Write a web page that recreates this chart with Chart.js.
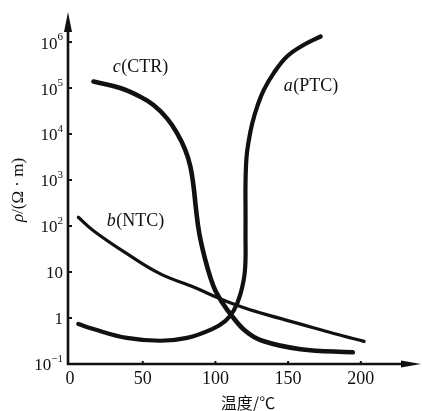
<!DOCTYPE html>
<html><head><meta charset="utf-8">
<script src="https://cdn.jsdelivr.net/npm/chart.js@4/dist/chart.umd.min.js"></script>
<style>html,body{margin:0;padding:0;background:#fff}#wrap{width:422px;height:411px;position:relative}</style>
</head><body><div id="wrap"><canvas id="c" width="422" height="411"></canvas></div>
<script>
// ---- data (temperature in °C, resistivity in Ω·m) ----
const tempPTC = [5.7, 16.1, 39.1, 62.1, 80.5, 97.7, 106.9, 112.6, 117.2, 120.3, 120.7, 120.7, 120.7, 121.4, 123.0, 125.3, 128.8, 133.3, 140.2, 149.4, 160.9, 172.4];
const rhoPTC  = [0.74, 0.575, 0.37, 0.32, 0.37, 0.575, 0.87, 1.45, 3.3, 10.7, 69, 240, 850, 3160, 7400, 17000, 40000, 91200, 214000, 490000, 871000, 1320000];

const tempNTC = [5.7, 16.1, 39.1, 62.1, 86.2, 100, 109.2, 120.7, 134.5, 158.6, 181.4, 202.3];
const rhoNTC  = [155, 79, 25, 9.1, 4.56, 2.9, 2.2, 1.63, 1.2, 0.736, 0.46, 0.31];

const tempCTR = [16.1, 34.5, 48.3, 57.4, 66.7, 73.6, 79.3, 82.8, 85.0, 86.6, 88.9, 92.8, 96.9, 100, 104.6, 110.3, 120.7, 132.2, 158.6, 194.5];
const rhoCTR  = [138000, 100000, 64600, 42700, 21900, 10500, 4470, 1950, 708, 240, 69, 19.5, 7.0, 3.9, 2.2, 1.22, 0.52, 0.32, 0.21, 0.18];

const xTickValues = [0, 50, 100, 150, 200];
const yTickValues = [0.1, 1, 10, 100, 1e3, 1e4, 1e5, 1e6];
const yTickBase   = ["10", "1", "10", "10", "10", "10", "10", "10"];
const yTickSup    = ["\u22121", "", "", "2", "3", "4", "5", "6"];
const xTitle = "温度/℃";
const yTitleParts = [["ρ", true], ["/(Ω · m)", false]];
const curveNames = [["a", "(PTC)"], ["b", "(NTC)"], ["c", "(CTR)"]];
const curveLabelAt = [[165.5, 1.07e5], [44.8, 125], [48.3, 2.8e5]];

function pts(xs, ys){ return xs.map((v,i)=>({x:v, y:ys[i]})); }

const SERIF = '"Liberation Serif","DejaVu Serif",serif';
const INK = '#111';

const axisPlugin = {
  id: 'axesDraw',
  afterDatasetsDraw(chart){
    const {ctx, chartArea:a, scales:{x, y}} = chart;
    ctx.save();
    ctx.strokeStyle = INK; ctx.fillStyle = INK; ctx.lineCap = 'butt';
    const x0 = a.left, y0 = a.bottom;
    ctx.lineWidth = 2.6;
    ctx.beginPath(); ctx.moveTo(x0, y0 + 1); ctx.lineTo(x0, a.top + 12); ctx.stroke();
    ctx.beginPath(); ctx.moveTo(x0 - 1, y0); ctx.lineTo(a.right - 12, y0); ctx.stroke();
    ctx.beginPath(); ctx.moveTo(x0, a.top); ctx.lineTo(x0 - 4, a.top + 20); ctx.lineTo(x0 + 4, a.top + 20); ctx.closePath(); ctx.fill();
    ctx.beginPath(); ctx.moveTo(a.right, y0); ctx.lineTo(a.right - 20, y0 - 3.5); ctx.lineTo(a.right - 20, y0 + 3.5); ctx.closePath(); ctx.fill();
    ctx.lineWidth = 2;
    yTickValues.forEach((v, i) => {
      const py = y.getPixelForValue(v);
      if (i > 0) { ctx.beginPath(); ctx.moveTo(x0, py); ctx.lineTo(x0 + 4, py); ctx.stroke(); }
      const right = 63;
      let supW = 0;
      if (yTickSup[i]) {
        ctx.font = '11px ' + SERIF; ctx.textAlign = 'right'; ctx.textBaseline = 'middle';
        ctx.fillText(yTickSup[i], right, py - 5);
        supW = ctx.measureText(yTickSup[i]).width;
      }
      ctx.font = '17px ' + SERIF; ctx.textAlign = 'right'; ctx.textBaseline = 'middle';
      ctx.fillText(yTickBase[i], right - supW, py + 2);
    });
    xTickValues.forEach((v, i) => {
      const px = x.getPixelForValue(v);
      if (i > 0) { ctx.beginPath(); ctx.moveTo(px, y0); ctx.lineTo(px, y0 - 3); ctx.stroke(); }
      ctx.font = '18px ' + SERIF; ctx.textAlign = 'center'; ctx.textBaseline = 'middle';
      ctx.fillText(String(v), px, y0 + 15);
    });
    ctx.font = '16px "Noto Sans CJK SC", sans-serif'; ctx.textAlign = 'center'; ctx.textBaseline = 'middle';
    ctx.fillText(xTitle, 248, 403);
    ctx.save();
    ctx.translate(19, 190); ctx.rotate(-Math.PI / 2);
    let total = 0;
    const fonts = yTitleParts.map(p => (p[1] ? 'italic ' : '') + '17px ' + SERIF);
    yTitleParts.forEach((p, i) => { ctx.font = fonts[i]; total += ctx.measureText(p[0]).width; });
    let cx = -total / 2;
    ctx.textAlign = 'left'; ctx.textBaseline = 'middle';
    yTitleParts.forEach((p, i) => { ctx.font = fonts[i]; ctx.fillText(p[0], cx, 0); cx += ctx.measureText(p[0]).width; });
    ctx.restore();
    curveNames.forEach((n, i) => {
      const px = x.getPixelForValue(curveLabelAt[i][0]);
      const py = y.getPixelForValue(curveLabelAt[i][1]);
      const f1 = 'italic 18px ' + SERIF, f2 = '18px ' + SERIF;
      ctx.font = f1; const w1 = ctx.measureText(n[0]).width;
      ctx.font = f2; const w2 = ctx.measureText(n[1]).width;
      let sx = px - (w1 + w2) / 2;
      ctx.textAlign = 'left'; ctx.textBaseline = 'middle';
      ctx.font = f1; ctx.fillText(n[0], sx, py);
      ctx.font = f2; ctx.fillText(n[1], sx + w1 + 0.5, py);
    });
    ctx.restore();
  }
};

const lineStyle = { borderColor: INK, pointRadius: 0, tension: 0.4, fill: false, borderCapStyle: 'round', borderJoinStyle: 'round' };

new Chart(document.getElementById('c'), {
  type: 'line',
  data: {
    datasets: [
      Object.assign({ label: 'a(PTC)', data: pts(tempPTC, rhoPTC), borderWidth: 4.2 }, lineStyle),
      Object.assign({ label: 'b(NTC)', data: pts(tempNTC, rhoNTC), borderWidth: 3.2 }, lineStyle),
      Object.assign({ label: 'c(CTR)', data: pts(tempCTR, rhoCTR), borderWidth: 4.6 }, lineStyle)
    ]
  },
  options: {
    responsive: false,
    animation: false,
    layout: { padding: { left: 68, right: 1, top: 12, bottom: 47 } },
    plugins: { legend: { display: false }, tooltip: { enabled: false } },
    scales: {
      x: { type: 'linear', min: -1.4, max: 241.4, display: false },
      y: { type: 'logarithmic', min: 0.1, max: 4.5e6, display: false }
    }
  },
  plugins: [axisPlugin]
});
</script>
</body></html>
